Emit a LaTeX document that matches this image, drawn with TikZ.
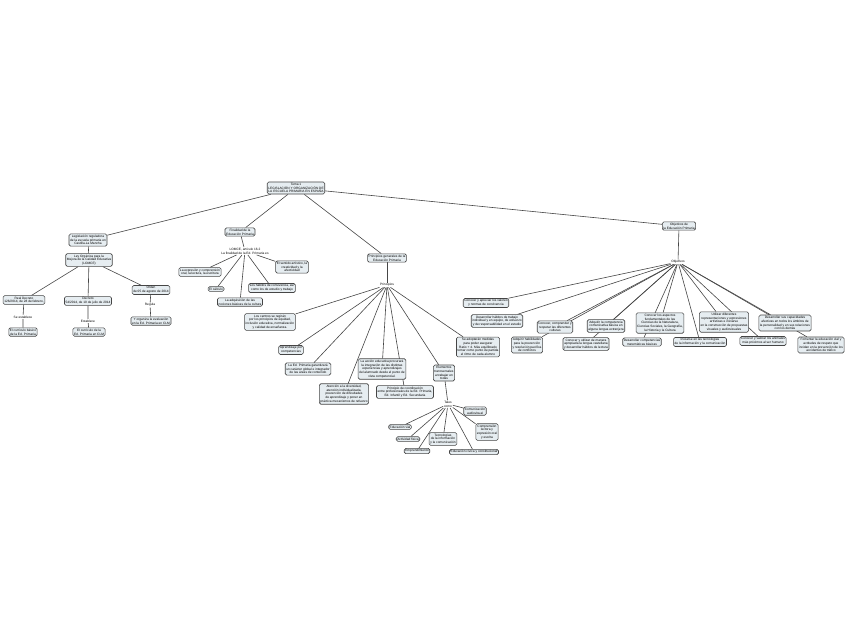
\documentclass[tikz,border=0pt]{standalone}
\usepackage{fontspec}
\setmainfont{Liberation Sans}
\usetikzlibrary{backgrounds}

\definecolor{cmapfill}{RGB}{230,237,241}
\definecolor{cmapline}{RGB}{70,70,70}

\tikzset{
  concept/.style={draw=cmapline, fill=cmapfill, rounded corners=1.5pt, line width=0.6pt,
    align=center, inner sep=1.1pt, font=\fontsize{3.2}{3.8}\selectfont},
  linkw/.style={align=center, inner sep=0.7pt, font=\fontsize{3.2}{3.8}\selectfont},
  conn/.style={draw=cmapline, line width=0.6pt}
}

\begin{document}
\begin{tikzpicture}[x=1pt,y=-1pt]
    \useasboundingbox (0,0) rectangle (848,638);

    % Root
    \node[concept] (tema) at (296,188) {Tema 1\\LEGISLACIÓN Y ORGANIZACIÓN DE\\LA ESCUELA PRIMARIA EN ESPAÑA};

    % Legislation
    \node[concept] (legis) at (88,240) {Legislación reguladora\\de la escuela primaria en\\Castilla-La Mancha};
    \node[concept] (lomce) at (89,260) {Ley Orgánica para la\\Mejora de la Calidad Educativa\\(LOMCE)};
    \node[concept] (rdec) at (24,300) {Real Decreto\\126/2014, de 28 de febrero,};
    \node[linkw] (seest) at (23,317) {Se establece};
    \node[concept] (curbas) at (23,332) {El currículo básico\\de la Ed. Primaria};
    \node[concept] (decr) at (88,301) {Decreto\\54/2014, de 10 de julio de 2014};
    \node[linkw] (estab) at (88,321) {Establece};
    \node[concept] (curclm) at (89,332) {El currículo de la\\Ed. Primaria en CLM};
    \node[concept] (orden) at (151,290) {Orden\\de 05 de agosto de 2014};
    \node[linkw] (regula) at (150,305) {Regula};
    \node[concept] (evalu) at (151,321) {Y organiza la evaluación\\en la Ed. Primaria en CLM};

    % Finalidad
    \node[concept] (final) at (240,232) {Finalidad de la\\Educación Primaria};
    \node[linkw] (artic) at (245,251) {LOMCE, artículo 16.2\\La finalidad de la Ed. Primaria es};
    \node[concept] (expr) at (200,272) {La expresión y comprensión\\oral, la lectura, la escritura};
    \node[concept] (calc) at (216,289) {El cálculo};
    \node[concept] (nocion) at (240,302) {La adquisición de las\\nociones básicas de la cultura};
    \node[concept] (habit) at (272,288) {Los hábitos de convivencia, así\\como los de estudio y trabajo};
    \node[concept] (artis) at (292,267) {El sentido artístico, la\\creatividad y la\\afectividad};

    % Principios generales
    \node[concept] (princ) at (387,258) {Principios generales de la\\Educación Primaria};
    \node[linkw] (prinl) at (387,285) {Principios};
    \node[concept] (centros) at (270,322) {Los centros se regirán\\por los principios de equidad,\\inclusión educativa, normalización\\y calidad de enseñanza.};
    \node[concept] (apren) at (291,350) {Aprendizaje por\\competencias};
    \node[concept] (global) at (308,369) {La Ed. Primaria garantizará\\un carácter global e integrador\\de las áreas de contenido};
    \node[concept] (diver) at (344,394) {Atención a la diversidad,\\atención individualizada,\\prevención de dificultades\\de aprendizaje y poner en\\práctica mecanismos de refuerzo};
    \node[concept] (accion) at (382,369) {La acción educativa procurará\\la integración de las distintas\\experiencias y aprendizajes\\del alumnado desde el punto de\\vista competencial.};
    \node[concept] (coord) at (405,392) {Principio de coordinación\\entre profesionales de la Ed. Primaria,\\Ed. Infantil y Ed. Secundaria};
    \node[concept] (elem) at (444,373) {Elementos\\transversales\\a trabajar en\\todas};
    \node[concept] (medid) at (478,347) {Se adoptarán medidas\\para poder asegurar\\Ratio + 4. Más equilibrado\\tomar como punto de partida\\el ritmo de cada alumno};

    % Elementos transversales
    \node[linkw] (tales) at (448,404) {Tales\\como};
    \node[concept] (audio) at (475,411) {Comunicación\\audiovisual};
    \node[concept] (vial) at (400,427) {Educación vial};
    \node[concept] (fisic) at (408,439) {Actividad física};
    \node[concept] (tic) at (443,439) {Tecnologías\\de la información\\y la comunicación};
    \node[concept] (empren) at (417,451) {Emprendimiento};
    \node[concept] (lect) at (487,432) {Comprensión\\lectora y\\expresión oral\\y escrita};
    \node[concept] (civic) at (474,452) {Educación cívica y constitucional};

    % Objetivos
    \node[concept] (obj) at (679,226) {Objetivos de\\la Educación Primaria};
    \node[linkw] (objl) at (678,262) {Objetivos};
    \node[concept] (valor) at (486,303) {Conocer y apreciar los valores\\y normas de convivencia};
    \node[concept] (trab) at (497,321) {Desarrollar hábitos de trabajo\\individual y en equipo, de esfuerzo\\y de responsabilidad en el estudio};
    \node[concept] (confl) at (527,345) {Adquirir habilidades\\para la prevención\\y resolución pacífica\\de conflictos};
    \node[concept] (cultu) at (555,327) {Conocer, comprender y\\respetar las diferentes\\culturas};
    \node[concept] (lengua) at (586,344) {Conocer y utilizar de manera\\apropiada la lengua castellana\\y desarrollar hábitos de lectura};
    \node[concept] (extra) at (606,326) {Adquirir la competencia\\comunicativa básica en\\alguna lengua extranjera};
    \node[concept] (mate) at (642,342) {Desarrollar competencias\\matemáticas básicas};
    \node[concept] (cienc) at (660,323) {Conocer los aspectos\\fundamentales de las\\Ciencias de la Naturaleza,\\Ciencias Sociales, la Geografía,\\la Historia y la Cultura};
    \node[concept] (tecno) at (700,342) {Iniciarse en las tecnologías\\de la información y la comunicación};
    \node[concept] (arte) at (724,322) {Utilizar diferentes\\representaciones y expresiones\\artísticas e iniciarse\\en la construcción de propuestas\\visuales y audiovisuales};
    \node[concept] (anim) at (763,341) {Conocer y valorar los animales\\más próximos al ser humano};
    \node[concept] (afect) at (785,323) {Desarrollar sus capacidades\\afectivas en todos los ámbitos de\\la personalidad y en sus relaciones\\con los demás};
    \node[concept] (trafi) at (821,345) {Fomentar la educación vial y\\actitudes de respeto que\\incidan en la prevención de los\\accidentes de tráfico};

    % Connectors
    \begin{scope}[on background layer]
      \fill[white] (0,0) rectangle (848,638);
      \foreach \c in {legis,final,princ,obj} \draw[conn] (tema) -- (\c);
      \draw[conn] (legis) -- (lomce);
      \foreach \c in {rdec,decr,orden} \draw[conn] (lomce) -- (\c);
      \draw[conn] (rdec) -- (seest) -- (curbas);
      \draw[conn] (decr) -- (estab) -- (curclm);
      \draw[conn] (orden) -- (regula) -- (evalu);
      \draw[conn] (final) -- (artic);
      \foreach \c in {expr,calc,nocion,habit,artis} \draw[conn] (artic) -- (\c);
      \draw[conn] (princ) -- (prinl);
      \foreach \c in {centros,apren,global,diver,accion,coord,elem,medid} \draw[conn] (prinl) -- (\c);
      \draw[conn] (elem) -- (tales);
      \foreach \c in {audio,vial,fisic,tic,empren,lect,civic} \draw[conn] (tales) -- (\c);
      \draw[conn] (obj) -- (objl);
      \foreach \c in {valor,trab,confl,cultu,lengua,extra,mate,cienc,tecno,arte,anim,afect,trafi} \draw[conn] (objl) -- (\c);
    \end{scope}
\end{tikzpicture}
\end{document}
